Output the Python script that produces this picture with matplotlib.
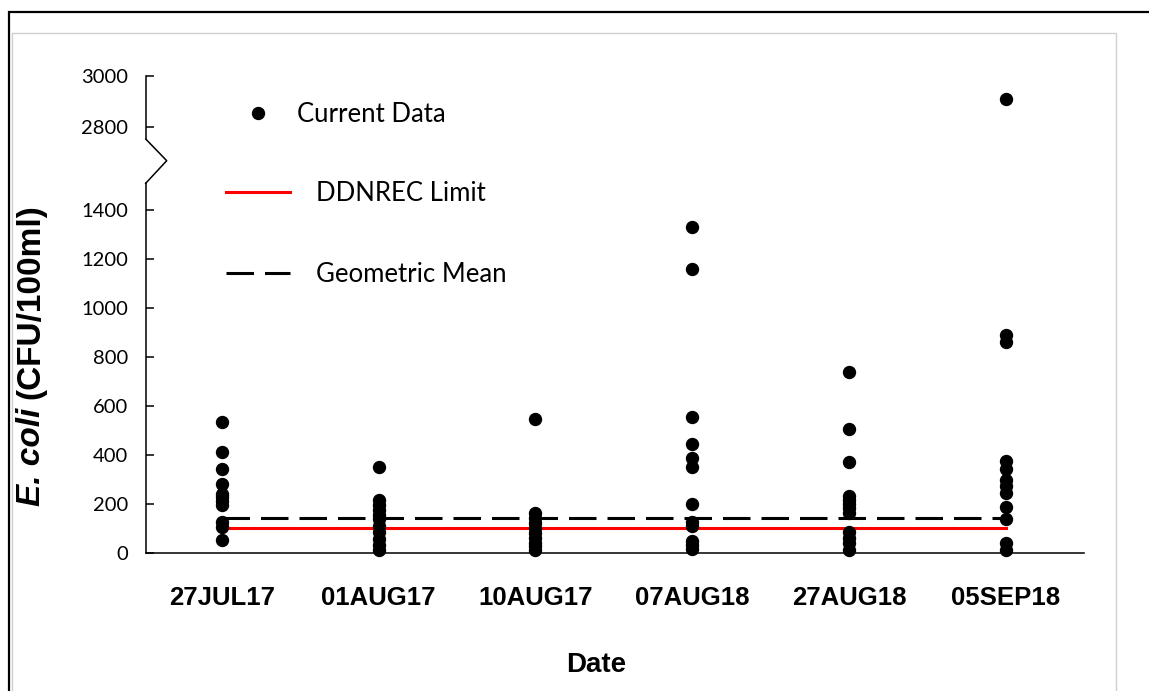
import matplotlib
matplotlib.use("Agg")
import matplotlib.pyplot as plt
from matplotlib.lines import Line2D
from matplotlib.patches import Rectangle

# ---- data -------------------------------------------------------------
dates = ["27JUL17", "01AUG17", "10AUG17", "07AUG18", "27AUG18", "05SEP18"]

ecoli_27jul17 = [535, 410, 340, 280, 240, 225, 210, 195, 125, 105, 50]
ecoli_01aug17 = [350, 215, 195, 175, 155, 135, 110, 85, 55, 30, 10]
ecoli_10aug17 = [545, 160, 140, 120, 100, 80, 60, 40, 25, 10]
ecoli_07aug18 = [1330, 1160, 555, 445, 385, 350, 200, 125, 110, 45, 30, 15]
ecoli_27aug18 = [740, 505, 370, 230, 215, 200, 180, 160, 85, 60, 40, 10]
ecoli_05sep18 = [2910, 890, 860, 375, 340, 295, 270, 245, 185, 135, 40, 10]

samples = [ecoli_27jul17, ecoli_01aug17, ecoli_10aug17,
           ecoli_07aug18, ecoli_27aug18, ecoli_05sep18]

ddnrec_limit = 100
geometric_mean = 140

lower_ticks = [0, 200, 400, 600, 800, 1000, 1200, 1400]
upper_ticks = [2800, 3000]
lower_range = (0, 1510)
upper_range = (2752, 3000)

# ---- figure -----------------------------------------------------------
W, H = 1149, 691
fig = plt.figure(figsize=(W / 100, H / 100), dpi=100)
fig.patch.set_facecolor("white")


def fx(px):
    return px / W


def fy(py):
    return 1 - py / H


# outer frame and chart-area border
fig.add_artist(Rectangle((fx(9), fy(H + 20)), 1.2, fy(12) - fy(H + 20),
                         transform=fig.transFigure, fill=False,
                         edgecolor="black", linewidth=1.6, clip_on=False))
fig.add_artist(Rectangle((fx(11.5), fy(H + 20)), fx(1116) - fx(11.5),
                         fy(32.5) - fy(H + 20),
                         transform=fig.transFigure, fill=False,
                         edgecolor="#d0d0d0", linewidth=1.0, clip_on=False))

L, R = 146, 1084
ax = fig.add_axes([fx(L), fy(552.5), fx(R) - fx(L), fy(183.3) - fy(552.5)])
axt = fig.add_axes([fx(L), fy(139.3), fx(R) - fx(L), fy(75.7) - fy(139.3)],
                   sharex=ax)

TICK_SIZE = 14.5
cat_font = dict(family="Liberation Sans", weight="bold", size=18.5)

for a in (ax, axt):
    a.set_facecolor("none")
    for s in ("top", "right"):
        a.spines[s].set_visible(False)
    a.spines["left"].set_linewidth(1.1)
    a.tick_params(axis="y", direction="in", length=6, width=1.1, pad=13)

axt.spines["bottom"].set_visible(False)
ax.spines["bottom"].set_linewidth(1.1)

for i, vals in enumerate(samples):
    lo = [v for v in vals if v <= lower_range[1]]
    hi = [v for v in vals if v >= upper_range[0]]
    ax.plot([i] * len(lo), lo, "o", color="black", markersize=8.6,
            clip_on=False, zorder=4)
    if hi:
        axt.plot([i] * len(hi), hi, "o", color="black", markersize=8.6,
                 clip_on=False, zorder=4)

x_span = [0, len(dates) - 1]
ax.plot(x_span, [ddnrec_limit] * 2, color="#ff0000", linewidth=2.2, zorder=3)
ax.plot(x_span, [geometric_mean] * 2, color="black", linewidth=2.2,
        dashes=(9, 3.6), zorder=3)

ax.set_xlim(-0.485, 5.5)
ax.set_ylim(*lower_range)
axt.set_ylim(*upper_range)
ax.set_yticks(lower_ticks)
axt.set_yticks(upper_ticks)
ax.set_yticklabels([str(t) for t in lower_ticks], fontfamily="Lato",
                   fontsize=TICK_SIZE)
axt.set_yticklabels([str(t) for t in upper_ticks], fontfamily="Lato",
                    fontsize=TICK_SIZE)

ax.set_xticks(range(len(dates)))
ax.set_xticklabels(dates, **cat_font)
ax.tick_params(axis="x", length=0, pad=24)
axt.tick_params(axis="x", which="both", bottom=False, labelbottom=False)

# zig-zag axis break
fig.add_artist(Line2D([fx(146), fx(166.7), fx(145.7)],
                      [fy(139.3), fy(160.7), fy(183.3)],
                      transform=fig.transFigure, color="black", linewidth=1.1))

# axis titles
fig.text(fx(596), fy(665), "Date", ha="center", va="center",
         family="Liberation Sans", weight="bold", size=20)

YLAB_SIZE = 24
ylab_x = fx(31)
t1 = fig.text(ylab_x, 0.5, "E. coli", rotation=90, ha="left", va="center",
              family="Liberation Sans", weight="bold", style="italic",
              size=YLAB_SIZE, rotation_mode="anchor")
t2 = fig.text(ylab_x, 0.5, "(CFU/100ml)", rotation=90, ha="left",
              va="center", family="Liberation Sans", weight="bold",
              size=YLAB_SIZE, rotation_mode="anchor")
fig.canvas.draw()
renderer = fig.canvas.get_renderer()
h1 = t1.get_window_extent(renderer).height
h2 = t2.get_window_extent(renderer).height
gap = 0.278 * YLAB_SIZE * 100 / 72
start = (H - 355) - (h1 + gap + h2) / 2
t1.set_position((ylab_x, start / H))
t2.set_position((ylab_x, (start + h1 + gap) / H))

# legend: the marker entry sits closer to its label than the line entries
legend_font = dict(family="Lato", size=18.5)
marker_handle = Line2D([], [], linestyle="none", marker="o", color="black",
                       markersize=8.6)
limit_handle = Line2D([], [], color="#ff0000", linewidth=2.2)
mean_handle = Line2D([], [], color="black", linewidth=2.2, dashes=(9, 3.6))

fig.legend([marker_handle], ["Current Data"], loc="upper left",
           bbox_to_anchor=(fx(226), fy(102)), frameon=False, borderpad=0,
           borderaxespad=0, handlelength=2.5, handletextpad=0.25,
           prop=legend_font)
fig.legend([limit_handle, mean_handle], ["DDNREC Limit", "Geometric Mean"],
           loc="upper left", bbox_to_anchor=(fx(226), fy(181)), frameon=False,
           borderpad=0, borderaxespad=0, handlelength=2.5, handletextpad=1.0,
           labelspacing=2.16, prop=legend_font)

fig.savefig("out.png", dpi=100)
